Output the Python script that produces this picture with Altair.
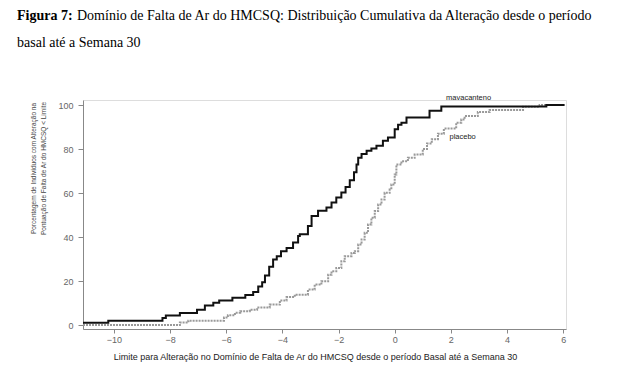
import altair as alt
import pandas as pd

# ---- data ----
mava_x = [-11.1, -10.2, -8.27, -8.15, -7.65, -7.04, -6.76, -6.46, -6.25, -5.78, -5.32, -5.04,
          -4.86, -4.72, -4.62, -4.47, -4.33, -4.2, -4.05, -3.85, -3.62, -3.44, -3.38, -3.09,
          -2.96, -2.73, -2.43, -2.25, -2.08, -1.9, -1.75, -1.6, -1.45, -1.36, -1.3, -1.18,
          -1.0, -0.83, -0.65, -0.42, -0.24, 0.0, 0.12, 0.24, 0.42, 1.24, 1.66, 5.4, 6.05]
mava_y = [1.0, 2.0, 3.2, 4.3, 5.5, 7.0, 8.9, 10.1, 11.2, 12.4, 13.6, 15.0,
          17.5, 19.5, 22.5, 26.5, 29.8, 31.3, 33.6, 35.0, 37.5, 40.5, 41.3, 45.0,
          49.6, 51.9, 53.4, 55.7, 58.0, 60.3, 62.8, 65.8, 69.4, 73.0, 76.0, 77.8,
          79.2, 80.2, 81.5, 83.8, 85.3, 89.0, 91.0, 92.0, 94.4, 97.4, 99.3, 100.0, 100.0]

plac_x = [-11.1, -7.65, -7.35, -6.08, -5.94, -5.69, -5.5, -5.16, -4.9, -4.45, -4.09, -3.85,
          -3.56, -3.09, -2.85, -2.61, -2.37, -2.25, -2.08, -1.9, -1.78, -1.54, -1.42, -1.3,
          -1.18, -1.07, -0.95, -0.83, -0.71, -0.59, -0.47, -0.36, -0.18, -0.12, 0.0, 0.06,
          0.24, 0.47, 0.71, 1.0, 1.15, 1.32, 1.54, 1.75, 2.19, 2.37, 2.49, 2.96, 3.38,
          4.57, 5.16, 6.05]
plac_y = [0.0, 1.1, 2.0, 3.4, 4.4, 5.6, 6.3, 7.0, 8.0, 9.3, 11.2, 12.7,
          13.8, 16.1, 18.4, 19.9, 22.9, 24.4, 25.9, 29.0, 31.3, 32.8, 33.6, 36.6,
          38.9, 41.9, 45.7, 48.8, 51.8, 54.8, 57.1, 60.1, 61.6, 63.9, 68.4, 73.0,
          74.5, 76.0, 77.5, 80.0, 82.5, 84.5, 87.0, 89.3, 92.0, 93.4, 95.0, 96.8, 97.7,
          99.2, 100.0, 100.0]

label_text = ["mavacanteno", "placebo"]
label_x = [2.63, 2.42]
label_y = [103.0, 85.5]

title_bold = "Figura 7:"
title_rest = "Domínio de Falta de Ar do HMCSQ: Distribuição Cumulativa da Alteração desde o período"
title_line2 = "basal até a Semana 30"

x_title = "Limite para Alteração no Domínio de Falta de Ar do HMCSQ desde o período Basal até a Semana 30"
y_title = ["Porcentagem de Indivíduos com Alteração na", "Pontuação de Falta de Ar do HMCSQ < Limite"]

x_ticks = list(range(-10, 7))
y_ticks = [0, 20, 40, 60, 80, 100]

# ---- build tables ----
mava = pd.DataFrame({"x": mava_x, "y": mava_y})
plac = pd.DataFrame({"x": plac_x, "y": plac_y})
labels = pd.DataFrame({"t": label_text, "x": label_x, "y": label_y})

xs = alt.Scale(domain=[-11.1, 6.1], nice=False, zero=False)
ys = alt.Scale(domain=[-1.8, 102.3], nice=False, zero=False)

x_axis = alt.Axis(values=x_ticks, labelExpr="datum.value % 2 == 0 ? datum.label : ''",
                  title=x_title, grid=False, tickSize=4, domainColor="#888", tickColor="#888",
                  labelColor="#666", labelFont="Liberation Sans", labelFontSize=9,
                  titleFont="Liberation Sans", titleFontSize=9, titleFontWeight="normal",
                  titleColor="#222", labelPadding=2, titleX=232, titleY=27,
                  titleBaseline="middle", titleAlign="center")
y_axis = alt.Axis(values=y_ticks, title=y_title, grid=False, tickSize=5, domainColor="#888",
                  tickColor="#888", labelColor="#666", labelFont="Liberation Sans", labelFontSize=9,
                  titleFont="Liberation Sans", titleFontSize=6.5, titleFontWeight="normal",
                  titleColor="#444", labelPadding=5, titleLineHeight=10,
                  titleX=-50, titleY=68, titleAngle=270, titleAlign="center",
                  titleBaseline="middle")

plac_line = alt.Chart(plac).mark_line(interpolate="step-after", color="#999999", strokeWidth=2,
                                      strokeDash=[2, 1]).encode(
    x=alt.X("x:Q", scale=xs, axis=x_axis),
    y=alt.Y("y:Q", scale=ys, axis=y_axis),
)
mava_line = alt.Chart(mava).mark_line(interpolate="step-after", color="#111111", strokeWidth=2).encode(
    x=alt.X("x:Q", scale=xs),
    y=alt.Y("y:Q", scale=ys),
)
lab = alt.Chart(labels).mark_text(font="Liberation Sans", fontSize=7.5, color="#222").encode(
    x=alt.X("x:Q", scale=xs), y=alt.Y("y:Q", scale=ys), text="t:N")

tfont = "Liberation Serif"
t1 = alt.Chart(pd.DataFrame({"t": [title_bold]})).mark_text(
    font=tfont, fontSize=14, fontWeight="bold", align="left", baseline="middle", color="#000"
).encode(x=alt.value(-66), y=alt.value(-84), text="t:N")
t2 = alt.Chart(pd.DataFrame({"t": [title_rest]})).mark_text(
    font=tfont, fontSize=14, align="left", baseline="middle", color="#000"
).encode(x=alt.value(-6), y=alt.value(-84), text="t:N")
t3 = alt.Chart(pd.DataFrame({"t": [title_line2]})).mark_text(
    font=tfont, fontSize=14, align="left", baseline="middle", color="#000"
).encode(x=alt.value(-66), y=alt.value(-57), text="t:N")

chart = alt.layer(plac_line, mava_line, lab, t1, t2, t3).properties(
    width=483, height=229,
    autosize=alt.AutoSizeParams(type="none"),
    padding={"left": 75, "top": 92, "right": 50, "bottom": 40},
).configure_view(stroke=None).configure(background="white")

chart.save("out.html", embed_options={"renderer": "svg", "actions": False})
